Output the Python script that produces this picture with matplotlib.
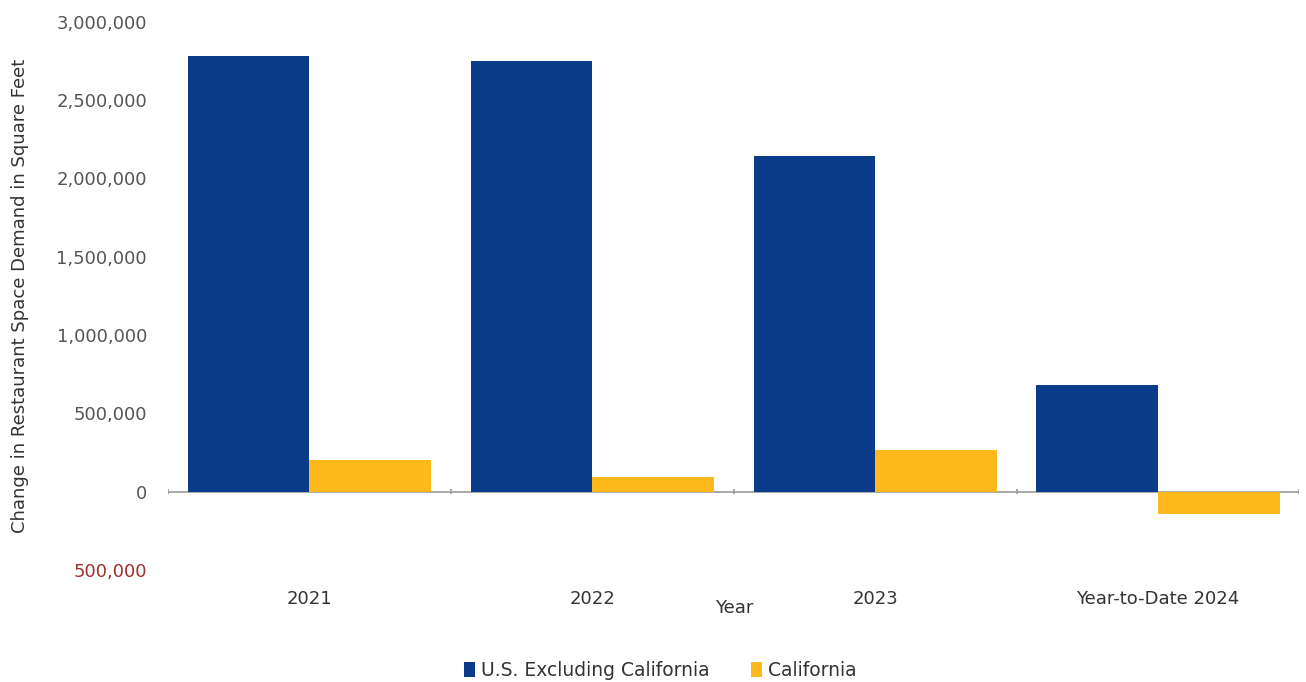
import numpy as np
import matplotlib.pyplot as plt
from matplotlib.ticker import FuncFormatter

plt.rcParams['font.family'] = ['DejaVu Sans']

# Data
categories = ["2021", "2022", "2023", "Year-to-Date 2024"]
us_excl_ca = [2780000, 2750000, 2145000, 685000]
california = [205000, 95000, 265000, -140000]

blue = "#0B3C8C"
gold = "#FFB81C"

fig = plt.figure(figsize=(13.06, 6.82), dpi=100)
ax = fig.add_axes([0.1286, 0.164, 0.8664, 0.804])

x = np.arange(len(categories))
w = 0.43
ax.bar(x - w / 2, us_excl_ca, width=w, color=blue, label="U.S. Excluding California", zorder=2)
ax.bar(x + w / 2, california, width=w, color=gold, label="California", zorder=2)

ax.set_xlim(-0.5, len(categories) - 0.5)
ax.set_ylim(-500000, 3000000)

# zero line with small ticks at category boundaries
ax.axhline(0, color="#9a9a9a", lw=1.2, zorder=1)
edges = np.arange(len(categories) + 1) - 0.5
ax.vlines(edges, -15000, 15000, color="#9a9a9a", lw=1.2, zorder=1)

for s in ax.spines.values():
    s.set_visible(False)

ax.set_xticks(x)
ax.set_xticklabels(categories, fontsize=13, color="#333333")
ax.tick_params(axis="x", length=0, pad=14)

ax.set_yticks(np.arange(-500000, 3000001, 500000))
ax.yaxis.set_major_formatter(FuncFormatter(lambda v, p: f"{abs(v):,.0f}"))
ax.tick_params(axis="y", length=0, labelsize=13, labelcolor="#555555", pad=15)
ax.get_yticklabels()[0].set_color("#a03030")

ax.set_ylabel("Change in Restaurant Space Demand in Square Feet", fontsize=13,
              color="#333333", labelpad=20)
ax.set_xlabel("Year", fontsize=13, color="#333333", labelpad=-6)

ax.legend(loc="upper center", bbox_to_anchor=(0.435, -0.135), ncol=2, frameon=False,
          fontsize=13.5, handlelength=0.6, handleheight=0.9, handletextpad=0.3,
          columnspacing=2.2, labelcolor="#333333")

fig.savefig("out.png", dpi=100)
